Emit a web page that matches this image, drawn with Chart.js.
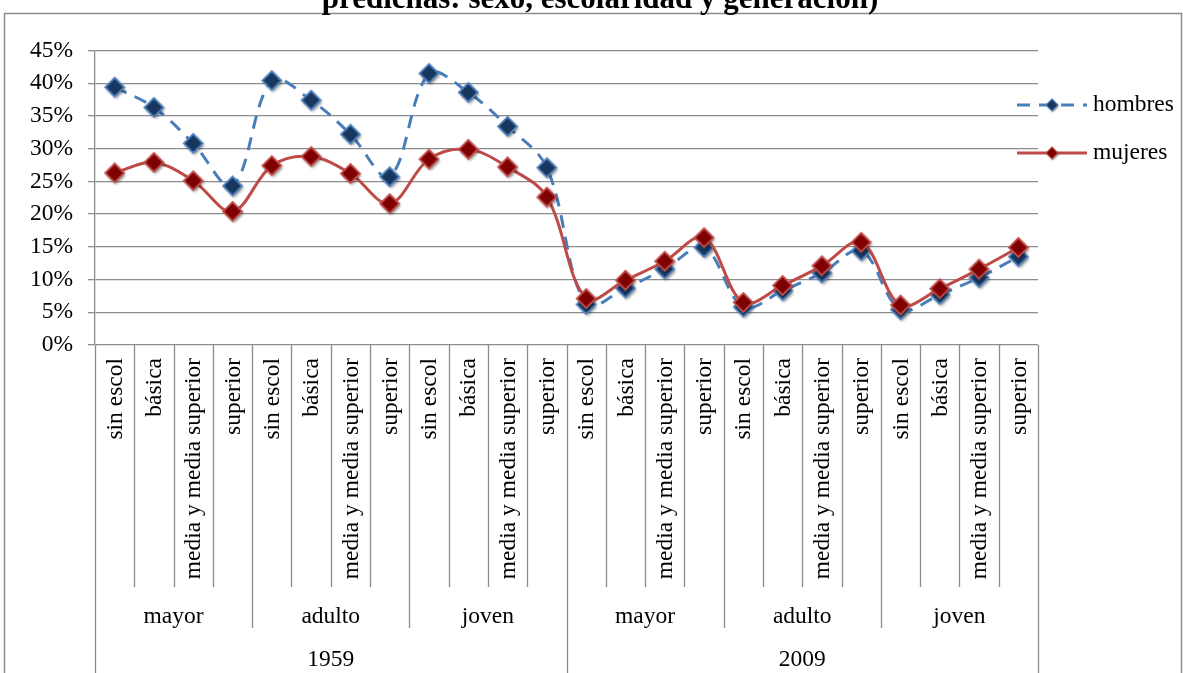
<!DOCTYPE html>
<html>
<head>
<meta charset="utf-8">
<script src="https://cdn.jsdelivr.net/npm/chart.js@4.4.1/dist/chart.umd.min.js"></script>
<style>
  html, body { margin: 0; background: #fff; }
  #wrap { width: 1183px; height: 673px; position: relative; }
</style>
</head>
<body>
<div id="wrap"><canvas id="chart"></canvas></div>
<script>
const titulo = 'predichas: sexo, escolaridad y generación)';
const anios = ['1959', '2009'];
const generaciones = ['mayor', 'adulto', 'joven'];
const escolaridad = ['sin escol', 'básica', 'media y media superior', 'superior'];

// porcentajes, en el orden año > generación > escolaridad
const hombres = [39.4, 36.3, 30.8, 24.3, 40.4, 37.4, 32.2, 25.7, 41.5, 38.6, 33.4, 27.1,
                 6.2, 8.7, 11.6, 14.9, 5.8, 8.3, 11.0, 14.4, 5.4, 7.7, 10.3, 13.5];
const mujeres = [26.3, 27.9, 25.1, 20.4, 27.4, 28.8, 26.2, 21.6, 28.4, 29.9, 27.2, 22.6,
                 7.1, 9.9, 12.8, 16.4, 6.5, 9.1, 12.1, 15.7, 6.1, 8.6, 11.6, 14.9];

const categorias = [];
anios.forEach(() => generaciones.forEach(() => escolaridad.forEach(e => categorias.push(e))));

const FUENTE = '"Liberation Serif", "Times New Roman", serif';
const GRIS = '#8c8c8c';
const RADIO = 9.5;

// diamante con sombra, pre-dibujado para usarlo como pointStyle
function diamante(relleno, borde, r) {
    const pad = 7;
    const c = document.createElement('canvas');
    c.width = c.height = 2 * (r + pad);
    const g = c.getContext('2d');
    const m = r + pad;
    g.shadowColor = 'rgba(0,0,0,0.45)';
    g.shadowBlur = 3;
    g.shadowOffsetX = 1.5;
    g.shadowOffsetY = 2;
    g.beginPath();
    g.moveTo(m, m - r); g.lineTo(m + r, m); g.lineTo(m, m + r); g.lineTo(m - r, m); g.closePath();
    g.fillStyle = relleno; g.fill();
    g.shadowColor = 'transparent';
    g.lineWidth = 1.8; g.strokeStyle = borde; g.stroke();
    return c;
}

const series = [
    { label: 'hombres', data: hombres, linea: '#4A7EBB', relleno: '#17375E', borde: '#4F81BD', dash: [13, 9], order: 1 },
    { label: 'mujeres', data: mujeres, linea: '#BE4B48', relleno: '#7F0000', borde: '#C0504D', dash: [], order: 0 },
];

// marco exterior y título
const marco = {
    id: 'marco',
    beforeDraw(chart) {
        const ctx = chart.ctx;
        ctx.save();
        ctx.fillStyle = '#fff';
        ctx.fillRect(0, 0, chart.width, chart.height);
        ctx.strokeStyle = GRIS;
        ctx.lineWidth = 1.5;
        ctx.strokeRect(4.5, 13.5, 1177, 700);
        ctx.fillStyle = '#000';
        ctx.font = 'bold 31px ' + FUENTE;
        ctx.textAlign = 'center';
        ctx.textBaseline = 'alphabetic';
        ctx.fillText(titulo, 600, 8);
        ctx.restore();
    }
};

// eje x en tres niveles: escolaridad, generación y año
const ejeTabla = {
    id: 'ejeTabla',
    afterDraw(chart) {
        const { ctx, chartArea: a, scales: { x } } = chart;
        const n = categorias.length;
        const borde = i => i === 0 ? a.left : i === n ? a.right
            : (x.getPixelForValue(i - 1) + x.getPixelForValue(i)) / 2;
        const porGen = escolaridad.length;
        const porAnio = porGen * generaciones.length;

        ctx.save();
        ctx.strokeStyle = GRIS;
        ctx.lineWidth = 1.3;
        for (let i = 0; i <= n; i++) {
            const largo = i % porAnio === 0 ? chart.height - a.bottom : i % porGen === 0 ? 283 : 242;
            const px = Math.round(borde(i)) + 0.5;
            ctx.beginPath();
            ctx.moveTo(px, a.bottom);
            ctx.lineTo(px, a.bottom + largo);
            ctx.stroke();
        }

        ctx.fillStyle = '#000';
        ctx.font = '23.5px ' + FUENTE;
        categorias.forEach((c, i) => {
            ctx.save();
            ctx.translate(x.getPixelForValue(i) + 1, a.bottom + 13);
            ctx.rotate(-Math.PI / 2);
            ctx.textAlign = 'right';
            ctx.textBaseline = 'middle';
            ctx.fillText(c, 0, 0);
            ctx.restore();
        });

        ctx.textAlign = 'center';
        ctx.textBaseline = 'middle';
        anios.forEach((an, k) => {
            generaciones.forEach((g, j) => {
                const ini = k * porAnio + j * porGen;
                ctx.fillText(g, (borde(ini) + borde(ini + porGen)) / 2, a.bottom + 272);
            });
            ctx.fillText(an, (borde(k * porAnio) + borde((k + 1) * porAnio)) / 2, a.bottom + 315);
        });
        ctx.restore();
    }
};

// leyenda a la derecha del área de trazado
const leyenda = {
    id: 'leyenda',
    afterDraw(chart) {
        const { ctx, chartArea: a } = chart;
        const filas = [105, 153];
        ctx.save();
        series.forEach((s, i) => {
            const y = filas[i];
            ctx.strokeStyle = s.linea;
            ctx.lineWidth = 3;
            ctx.setLineDash(s.dash);
            ctx.beginPath();
            ctx.moveTo(a.right - 21, y);
            ctx.lineTo(a.right + 49, y);
            ctx.stroke();
            ctx.setLineDash([]);
            const d = chart.data.datasets[i].pointStyle;
            const esc = 6 / RADIO;
            ctx.drawImage(d, a.right + 14 - d.width * esc / 2, y - d.height * esc / 2, d.width * esc, d.height * esc);
            ctx.fillStyle = '#000';
            ctx.font = '23.5px ' + FUENTE;
            ctx.textAlign = 'left';
            ctx.textBaseline = 'middle';
            ctx.fillText(s.label, a.right + 55, y);
        });
        ctx.restore();
    }
};

new Chart(document.getElementById('chart'), {
    type: 'line',
    data: {
        labels: categorias,
        datasets: series.map(s => ({
            label: s.label,
            data: s.data,
            order: s.order,
            borderColor: s.linea,
            borderWidth: 3,
            borderDash: s.dash,
            tension: 0.35,
            fill: false,
            pointStyle: diamante(s.relleno, s.borde, RADIO),
            pointRadius: RADIO,
        }))
    },
    options: {
        responsive: true,
        maintainAspectRatio: false,
        animation: false,
        events: [],
        layout: { padding: { left: 0, right: 145, top: 50.5, bottom: 0 } },
        plugins: { legend: { display: false }, tooltip: { enabled: false } },
        scales: {
            x: {
                offset: true,
                grid: { display: false },
                border: { display: false },
                ticks: { display: false },
                afterFit: s => { s.height = 328; }
            },
            y: {
                min: 0,
                max: 45,
                ticks: {
                    stepSize: 5,
                    callback: v => v + '%',
                    color: '#000',
                    padding: 15,
                    font: { family: FUENTE, size: 23.5 }
                },
                grid: { color: GRIS, lineWidth: 1.3, tickLength: 7 },
                border: { color: GRIS, width: 1.3 },
                afterFit: s => { s.width = 95; }
            }
        }
    },
    plugins: [marco, ejeTabla, leyenda]
});
</script>
</body>
</html>
